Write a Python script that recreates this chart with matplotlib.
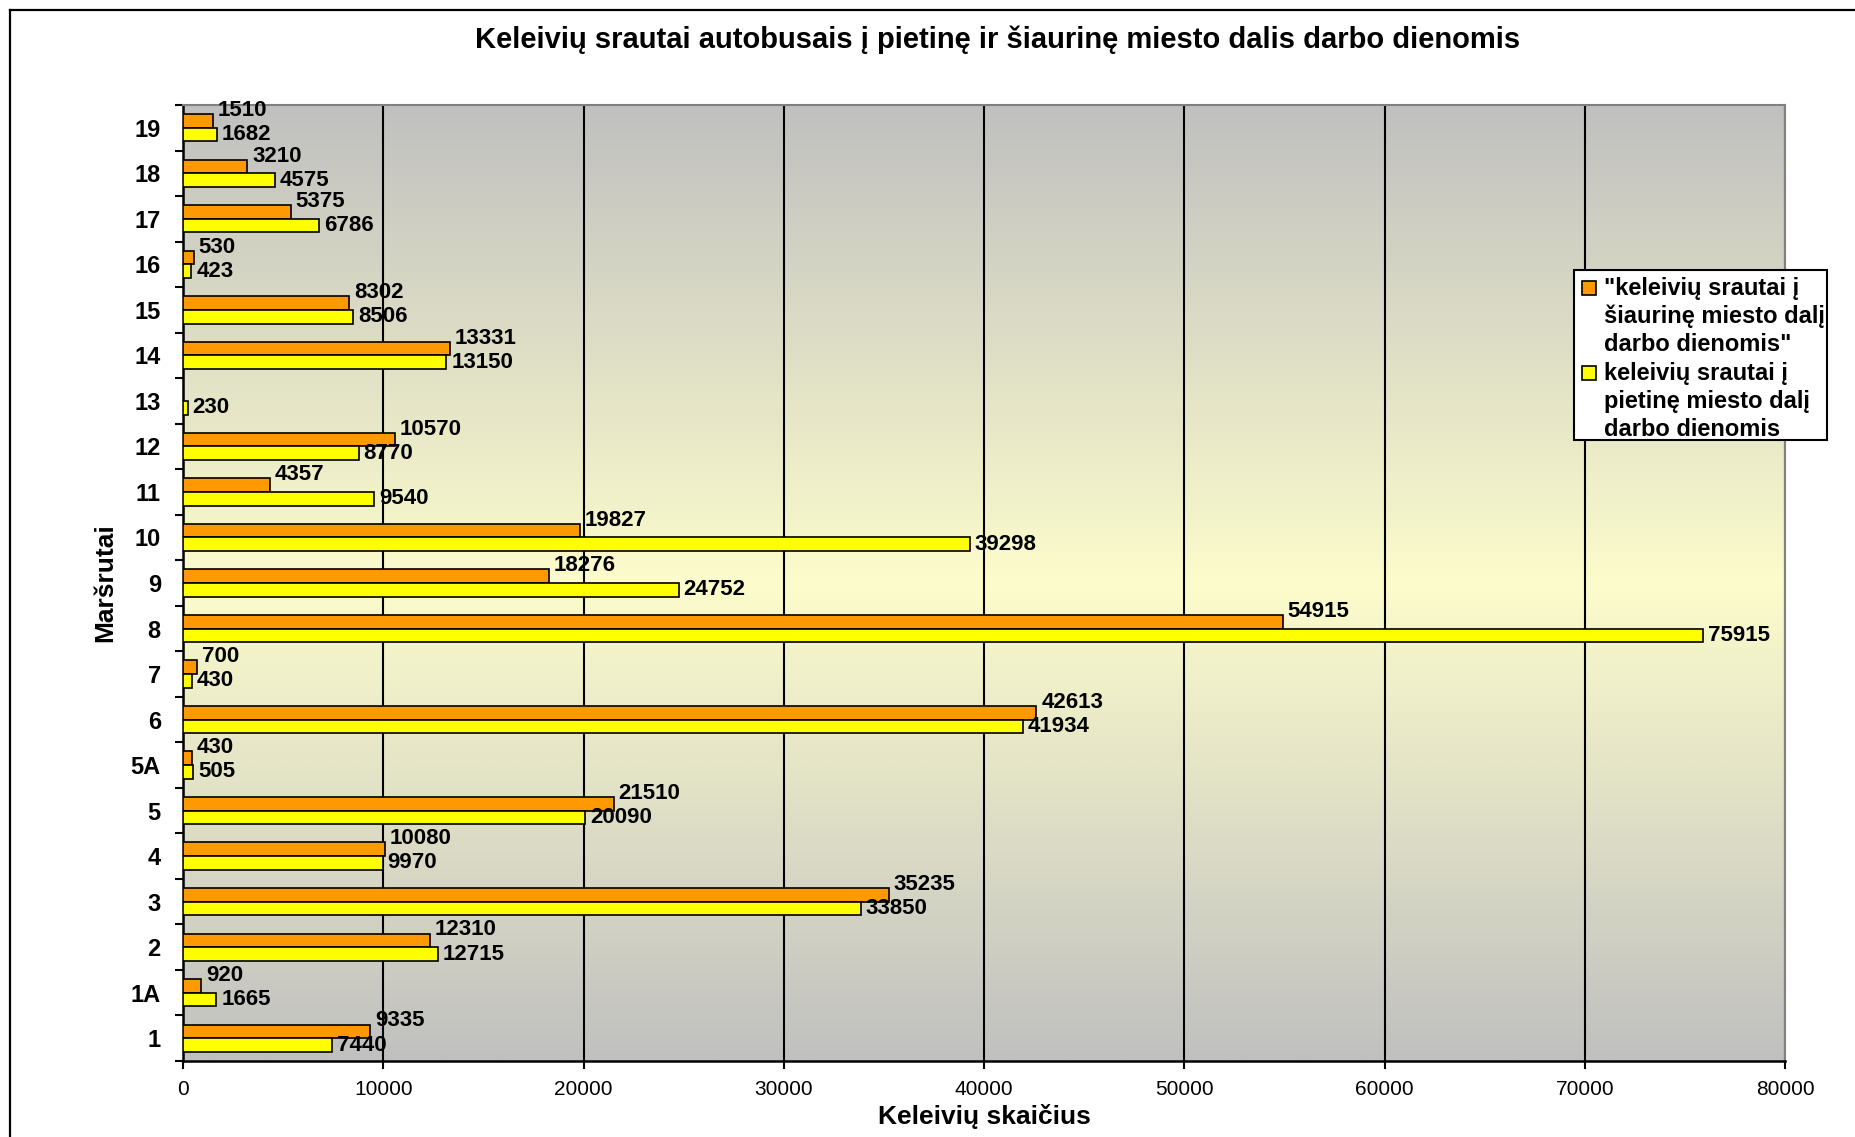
import numpy as np
import matplotlib.pyplot as plt
from matplotlib.patches import Rectangle
from matplotlib.lines import Line2D

plt.rcParams['font.family'] = ['Liberation Sans', 'DejaVu Sans']

# duomenys (maršrutai iš apačios į viršų)
routes = ['1', '1A', '2', '3', '4', '5', '5A', '6', '7', '8', '9', '10',
          '11', '12', '13', '14', '15', '16', '17', '18', '19']
north = [9335, 920, 12310, 35235, 10080, 21510, 430, 42613, 700, 54915, 18276,
         19827, 4357, 10570, 0, 13331, 8302, 530, 5375, 3210, 1510]
south = [7440, 1665, 12715, 33850, 9970, 20090, 505, 41934, 430, 75915, 24752,
         39298, 9540, 8770, 230, 13150, 8506, 423, 6786, 4575, 1682]
x_ticks = list(range(0, 80001, 10000))

legend_north = ['"keleivių srautai į', 'šiaurinę miesto dalį', 'darbo dienomis"']
legend_south = ['keleivių srautai į', 'pietinę miesto dalį', 'darbo dienomis']

W, H = 1855, 1137
ORANGE = '#FF9900'
YELLOW = '#FFFF00'


def fpos(x, y):
    """pikseliai -> figūros koordinatės"""
    return x / W, 1 - y / H


fig = plt.figure(figsize=(W / 100, H / 100), dpi=100)
ax = fig.add_axes([183 / W, 1 - 1061 / H, (1785 - 183) / W, (1061 - 105) / H])

y = np.arange(len(routes))

# fono gradientas: pilka - šviesiai geltona - pilka
c_edge = np.array([192, 192, 192]) / 255
c_mid = np.array([252, 252, 204]) / 255
t = np.abs(np.linspace(-1, 1, 256))[:, None]
grad = c_mid + (c_edge - c_mid) * t
ax.imshow(grad[:, None, :].repeat(2, axis=1), extent=[0, 80000, -0.5, 20.5],
          aspect='auto', origin='upper', zorder=0, interpolation='bilinear')

ax.barh(y + 0.15, north, height=0.3, color=ORANGE, edgecolor='black',
        linewidth=1.2, zorder=3)
ax.barh(y - 0.15, south, height=0.3, color=YELLOW, edgecolor='black',
        linewidth=1.2, zorder=3)

for i in range(len(routes)):
    if north[i]:
        ax.annotate(str(north[i]), (north[i], y[i] + 0.15), xytext=(3.5, 7.5),
                    textcoords='offset points', va='center', ha='left',
                    fontsize=16, fontweight='bold', zorder=5)
    if south[i]:
        ax.annotate(str(south[i]), (south[i], y[i] - 0.15), xytext=(3.5, 0),
                    textcoords='offset points', va='center', ha='left',
                    fontsize=16, fontweight='bold', zorder=5)

ax.set_xlim(0, 80000)
ax.set_ylim(-0.5, 20.5)
ax.set_xticks(x_ticks)
ax.set_xticklabels([str(v) for v in x_ticks])
ax.grid(True, axis='x', color='black', linewidth=1.5, zorder=1)
ax.set_axisbelow(True)

ax.set_yticks(y)
ax.set_yticklabels(routes, fontsize=17, fontweight='bold')
ax.set_yticks(np.arange(-0.5, len(routes)), minor=True)
ax.tick_params(axis='y', which='major', length=0, pad=16)
ax.tick_params(axis='y', which='minor', length=6, width=1.5, direction='out')
ax.tick_params(axis='x', length=6, width=1.5, pad=8, labelsize=15)

for side in ['top', 'right']:
    ax.spines[side].set_color('#808080')
    ax.spines[side].set_linewidth(1.5)
for side in ['left', 'bottom']:
    ax.spines[side].set_color('black')
    ax.spines[side].set_linewidth(1.8)

ax.set_xlabel('Keleivių skaičius', fontsize=19, fontweight='bold')
ax.set_ylabel('Maršrutai', fontsize=19, fontweight='bold')
ax.xaxis.set_label_coords(0.5, -0.045)
ax.yaxis.set_label_coords(-0.041, 0.5)

x0, y0 = fpos(998, 40)
fig.text(x0, y0, 'Keleivių srautai autobusais į pietinę ir šiaurinę miesto dalis darbo dienomis',
         ha='center', va='center', fontsize=21, fontweight='bold')

# legenda
lx, ly = fpos(1574, 440)
fig.add_artist(Rectangle((lx, ly), 253 / W, 170 / H, transform=fig.transFigure,
                         facecolor='white', edgecolor='black', linewidth=1.5, zorder=10))
lines = legend_north + legend_south
for k, line in enumerate(lines):
    tx, ty = fpos(1604, 288 + k * 28.4)
    fig.text(tx, ty, line, ha='left', va='center', fontsize=17,
             fontweight='bold', zorder=11)
for k, col in enumerate([ORANGE, YELLOW]):
    sx, sy = fpos(1582, 295 + k * 3 * 28.4)
    fig.add_artist(Rectangle((sx, sy), 14 / W, 14 / H, transform=fig.transFigure,
                             facecolor=col, edgecolor='black', linewidth=1.2, zorder=11))

# rėmelis
fig.add_artist(Line2D([10 / W, 1], [1 - 10 / H] * 2, color='black', linewidth=1.6))
fig.add_artist(Line2D([10 / W] * 2, [0, 1 - 10 / H], color='black', linewidth=1.6))

fig.savefig('out.png', dpi=100)
